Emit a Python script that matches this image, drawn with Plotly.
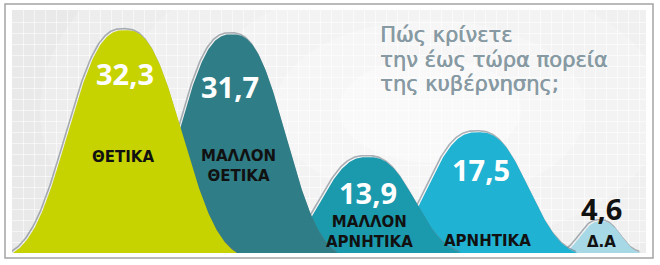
import numpy as np
import plotly.graph_objects as go

# ---- data ----
categories = ["ΘΕΤΙΚΑ", "ΜΑΛΛΟΝ<br>ΘΕΤΙΚΑ", "ΜΑΛΛΟΝ<br>ΑΡΝΗΤΙΚΑ", "ΑΡΝΗΤΙΚΑ", "Δ.Α"]
values = [32.3, 31.7, 13.9, 17.5, 4.6]
value_labels = ["32,3", "31,7", "13,9", "17,5", "4,6"]
title_lines = ["Πώς κρίνετε", "την έως τώρα πορεία", "της κυβέρνησης;"]

# ---- layout / style ----
W, H = 660, 265
PL, PR, PT, PB = 12, 646, 10, 253     # panel edges in pixels
K = 6.9                                # pixels per unit
colors = ["#c6d300", "#2f7d86", "#1b9aae", "#20b2d2", "#a6d8e6"]
centers = [125, 232, 368, 478, 601]    # bump centers (px)
widths = [70, 66, 58, 62, 25]          # bump width parameter (px)
num_pos = [(125, 73), (230, 86), (368, 192), (481, 169), (601, 208)]
num_colors = ["white", "white", "white", "white", "#111111"]
cat_pos = [(123, 157), (238, 165.5), (369, 232), (487, 241), (601, 242)]
P = 2.6


def Y(py):
    return (PB - py) / K


def bump(c, a, v):
    xs = np.linspace(-1.6 * a, 1.6 * a, 241)
    e0 = np.exp(-(1.6) ** P)
    g = (np.exp(-(np.abs(xs) / a) ** P) - e0) / (1 - e0)
    return c + xs, v * np.clip(g, 0, None)


fig = go.Figure()
# draw back to front: rightmost first
for i in reversed(range(len(values))):
    x, y = bump(centers[i], widths[i], values[i])
    fig.add_trace(go.Scatter(x=x - 1.5, y=y + 1.5 / K, mode="lines",
                             line=dict(color="rgba(105,115,125,0.55)", width=1.6),
                             hoverinfo="skip", showlegend=False))
    fig.add_trace(go.Scatter(x=x, y=y, mode="lines", fill="tozeroy",
                             fillcolor=colors[i], line=dict(width=0, color=colors[i]),
                             hoverinfo="skip", showlegend=False))

annotations = []
for i in range(len(values)):
    annotations.append(dict(x=num_pos[i][0], y=Y(num_pos[i][1]), text=value_labels[i],
                            showarrow=False, xanchor="center", yanchor="middle", borderpad=0,
                            font=dict(family="Open Sans", size=29, color=num_colors[i], weight=700)))
    annotations.append(dict(x=cat_pos[i][0], y=Y(cat_pos[i][1]), text=categories[i],
                            showarrow=False, xanchor="center", yanchor="middle", borderpad=0,
                            font=dict(family="DejaVu Sans", size=15, color="#111111", weight=700)))

title_color = "#879aa3"
title_y = [35.1, 59.7, 84.3]
for t, ty in zip(title_lines, title_y):
    annotations.append(dict(x=379, y=Y(ty), text=t, showarrow=False, borderpad=0,
                            xanchor="left", yanchor="middle",
                            font=dict(family="DejaVu Sans", size=21, color=title_color,
                                      shadow="0.6px 0px 0px %s" % title_color)))

shapes = []
# soft white glow to mimic the radial background gradient
for r, op in [(300, 0.18), (240, 0.2), (180, 0.22), (120, 0.25), (70, 0.3)]:
    cx, cy = 430, 110
    shapes.append(dict(type="circle", xref="x", yref="y", layer="below",
                       x0=cx - r * 1.3, x1=cx + r * 1.3, y0=Y(cy + r * 0.75), y1=Y(cy - r * 0.75),
                       fillcolor="rgba(255,255,255,%s)" % op, line=dict(width=0)))


def px2paper_x(px):
    return (px - PL) / (PR - PL)


def px2paper_y(py):
    return (PB - py) / (PB - PT)


shapes.append(dict(type="rect", xref="paper", yref="paper", layer="above",
                   x0=px2paper_x(5), x1=px2paper_x(653), y0=px2paper_y(258), y1=px2paper_y(4),
                   line=dict(color="#a4a4a4", width=1.5), fillcolor="rgba(0,0,0,0)"))

fig.update_layout(
    width=W, height=H,
    margin=dict(l=PL, r=W - PR, t=PT, b=H - PB, pad=0),
    paper_bgcolor="white", plot_bgcolor="#e9e9e9",
    xaxis=dict(range=[PL, PR], showticklabels=False, zeroline=False, showgrid=True,
               dtick=11, tick0=PL, gridcolor="rgba(255,255,255,0.55)", gridwidth=1, fixedrange=True),
    yaxis=dict(range=[0, Y(PT)], showticklabels=False, zeroline=False, showgrid=True,
               dtick=11 / K, tick0=0, gridcolor="rgba(255,255,255,0.55)", gridwidth=1, fixedrange=True),
    annotations=annotations, shapes=shapes, showlegend=False,
)

fig.write_html("out.html", config={"displayModeBar": False})
